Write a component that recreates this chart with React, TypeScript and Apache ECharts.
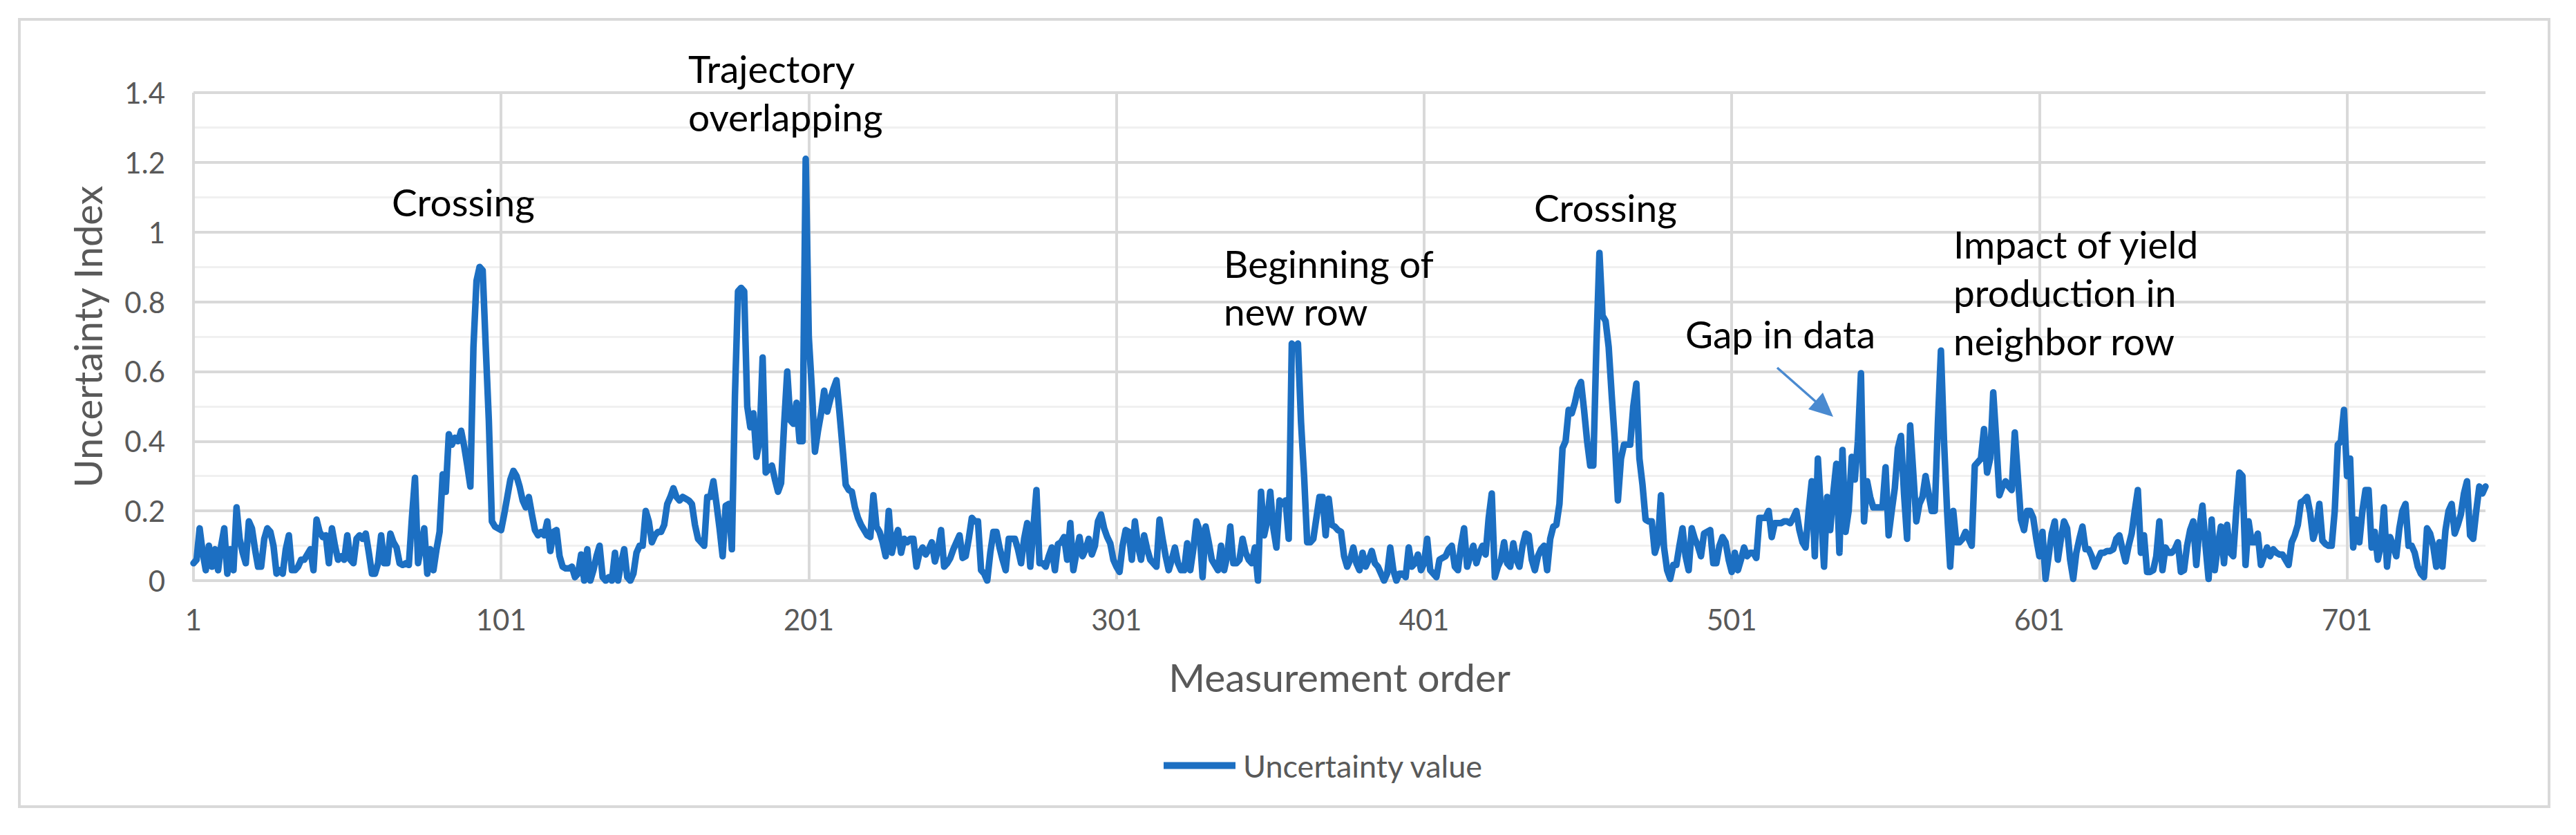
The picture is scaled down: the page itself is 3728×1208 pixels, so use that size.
import React, { useEffect, useRef } from "react";
import * as echarts from "echarts";

const valuesPart1 = [
  0.05, 0.06, 0.15, 0.08, 0.03, 0.10, 0.04, 0.09, 0.03, 0.10,
  0.15, 0.02, 0.09, 0.03, 0.21, 0.12, 0.08, 0.05, 0.17, 0.15,
  0.09, 0.04, 0.04, 0.12, 0.15, 0.14, 0.10, 0.02, 0.03, 0.02,
  0.09, 0.13, 0.03, 0.03, 0.04, 0.06, 0.06, 0.075, 0.09, 0.03,
  0.175, 0.14, 0.125, 0.13, 0.05, 0.15, 0.10, 0.06, 0.07, 0.06,
  0.13, 0.06, 0.05, 0.12, 0.13, 0.12, 0.135, 0.08, 0.02, 0.02,
  0.05, 0.13, 0.05, 0.05, 0.135, 0.11, 0.095, 0.05, 0.045, 0.05,
  0.045, 0.18, 0.295, 0.05, 0.10, 0.15, 0.02, 0.09, 0.03, 0.09,
  0.14, 0.305, 0.255, 0.42, 0.39, 0.41, 0.40, 0.43, 0.385, 0.33,
  0.27, 0.67, 0.86, 0.90, 0.89, 0.67, 0.46, 0.17, 0.155, 0.15,
  0.145, 0.19, 0.24, 0.29, 0.315, 0.30, 0.27, 0.23, 0.21, 0.24,
  0.19, 0.145, 0.13, 0.14, 0.13, 0.17, 0.085, 0.14, 0.145, 0.07,
  0.04, 0.035, 0.035, 0.04, 0.01, 0.02, 0.075, 0.0, 0.09, 0.0,
  0.03, 0.07, 0.10, 0.01, 0.0, 0.01, 0.0, 0.08, 0.0, 0.05,
  0.09, 0.01, 0.0, 0.02, 0.08, 0.10, 0.10, 0.20, 0.17,
];
const valuesPart2 = [
  0.11, 0.13, 0.14, 0.14, 0.16, 0.22, 0.24, 0.265, 0.24, 0.23,
  0.24, 0.235, 0.23, 0.22, 0.16, 0.12, 0.11, 0.10, 0.24, 0.24,
  0.285, 0.22, 0.15, 0.07, 0.215, 0.22, 0.09, 0.53, 0.83, 0.84,
  0.83, 0.5, 0.44, 0.48, 0.355, 0.40, 0.64, 0.31, 0.32, 0.33,
  0.29, 0.255, 0.28, 0.45, 0.60, 0.46, 0.45, 0.51, 0.40, 0.40,
  1.21, 0.70, 0.55, 0.37, 0.43, 0.48, 0.545, 0.485, 0.52, 0.55,
  0.575, 0.48, 0.38, 0.275, 0.26, 0.255, 0.21, 0.18, 0.16, 0.145,
  0.13, 0.125, 0.245, 0.155, 0.14, 0.11, 0.07, 0.2, 0.08, 0.12,
  0.145, 0.08, 0.12, 0.11, 0.12, 0.12, 0.04, 0.08, 0.095, 0.075,
  0.09, 0.11, 0.055, 0.09, 0.145, 0.04, 0.05, 0.065, 0.09, 0.11,
  0.13, 0.065, 0.07, 0.12, 0.18, 0.17, 0.17, 0.03, 0.02, 0.0,
  0.08, 0.14, 0.14, 0.095, 0.06, 0.03, 0.12, 0.12, 0.12, 0.09,
  0.05, 0.12, 0.165, 0.04, 0.15, 0.26, 0.05, 0.05, 0.04, 0.07,
  0.095, 0.03, 0.105, 0.11, 0.125, 0.06, 0.165, 0.03, 0.08, 0.125,
  0.07, 0.09, 0.12, 0.075, 0.1, 0.17, 0.19, 0.15, 0.125,
];
const valuesPart3 = [
  0.107, 0.06, 0.04, 0.025, 0.10, 0.145, 0.14, 0.06, 0.17, 0.10,
  0.06, 0.13, 0.09, 0.06, 0.05, 0.04, 0.175, 0.12, 0.07, 0.03,
  0.06, 0.095, 0.05, 0.03, 0.03, 0.107, 0.03, 0.09, 0.17, 0.145,
  0.01, 0.155, 0.11, 0.06, 0.045, 0.03, 0.1, 0.03, 0.07, 0.155,
  0.05, 0.05, 0.06, 0.12, 0.08, 0.06, 0.05, 0.095, 0.0, 0.255,
  0.13, 0.17, 0.255, 0.15, 0.095, 0.23, 0.22, 0.23, 0.12, 0.68,
  0.67, 0.68, 0.455, 0.30, 0.11, 0.11, 0.12, 0.18, 0.24, 0.24,
  0.13, 0.235, 0.16, 0.155, 0.145, 0.14, 0.07, 0.04, 0.06, 0.095,
  0.05, 0.03, 0.08, 0.04, 0.06, 0.085, 0.05, 0.04, 0.02, 0.0,
  0.02, 0.095, 0.03, 0.0, 0.02, 0.02, 0.01, 0.095, 0.04, 0.05,
  0.075, 0.03, 0.05, 0.12, 0.03, 0.02, 0.01, 0.06, 0.065, 0.07,
  0.09, 0.10, 0.04, 0.03, 0.10, 0.15, 0.04, 0.07, 0.10, 0.05,
  0.08, 0.10, 0.075, 0.18, 0.25, 0.01, 0.04, 0.06, 0.11, 0.05,
  0.04, 0.107, 0.06, 0.04, 0.10, 0.135, 0.13, 0.06, 0.03, 0.07,
  0.09, 0.10, 0.03, 0.12, 0.155, 0.16, 0.22, 0.38, 0.40, 0.49,
];
const valuesPart4 = [
  0.48, 0.51, 0.55, 0.57, 0.49, 0.40, 0.33, 0.33, 0.67, 0.94,
  0.76, 0.745, 0.67, 0.53, 0.40, 0.23, 0.35, 0.39, 0.39, 0.39,
  0.50, 0.565, 0.35, 0.275, 0.175, 0.17, 0.17, 0.08, 0.11, 0.245,
  0.095, 0.03, 0.005, 0.045, 0.045, 0.10, 0.15, 0.07, 0.03, 0.15,
  0.12, 0.10, 0.07, 0.135, 0.14, 0.145, 0.05, 0.05, 0.10, 0.125,
  0.11, 0.06, 0.025, 0.08, 0.03, 0.06, 0.095, 0.07, 0.08, 0.08,
  0.065, 0.18, 0.18, 0.18, 0.2, 0.125, 0.165, 0.165, 0.165, 0.17,
  0.17, 0.165, 0.18, 0.2, 0.145, 0.11, 0.095, 0.2, 0.285, 0.07,
  0.35, 0.2, 0.04, 0.24, 0.145, 0.25, 0.335, 0.08, 0.375, 0.14,
  0.2, 0.355, 0.29, 0.4, 0.595, 0.17, 0.285, 0.24, 0.21, 0.21,
  0.21, 0.21, 0.325, 0.13, 0.2, 0.265, 0.38, 0.415, 0.25, 0.12,
  0.445, 0.31, 0.17, 0.22, 0.24, 0.3, 0.25, 0.2, 0.2, 0.45,
  0.66, 0.4, 0.2, 0.04, 0.2, 0.11, 0.11, 0.12, 0.14, 0.12,
  0.1, 0.33, 0.34, 0.35, 0.435, 0.31, 0.35, 0.54, 0.4, 0.245,
  0.27, 0.285, 0.27, 0.26, 0.425, 0.3, 0.175, 0.145, 0.2,
];
const valuesPart5 = [
  0.2, 0.18, 0.12, 0.07, 0.14, 0.005, 0.07, 0.135, 0.17, 0.06,
  0.12, 0.17, 0.15, 0.06, 0.005, 0.08, 0.12, 0.155, 0.09, 0.09,
  0.07, 0.04, 0.06, 0.08, 0.08, 0.085, 0.085, 0.09, 0.12, 0.13,
  0.09, 0.055, 0.1, 0.135, 0.2, 0.26, 0.08, 0.13, 0.025, 0.025,
  0.03, 0.07, 0.17, 0.03, 0.095, 0.08, 0.08, 0.09, 0.11, 0.025,
  0.03, 0.1, 0.145, 0.17, 0.045, 0.15, 0.215, 0.1, 0.005, 0.175,
  0.03, 0.1, 0.155, 0.05, 0.16, 0.08, 0.07, 0.2, 0.31, 0.30,
  0.045, 0.17, 0.11, 0.11, 0.135, 0.045, 0.07, 0.095, 0.07, 0.09,
  0.08, 0.075, 0.075, 0.06, 0.045, 0.11, 0.13, 0.16, 0.225, 0.23,
  0.24, 0.195, 0.12, 0.15, 0.22, 0.115, 0.105, 0.1, 0.1, 0.2,
  0.39, 0.4, 0.49, 0.3, 0.35, 0.095, 0.175, 0.11, 0.2, 0.26,
  0.26, 0.095, 0.14, 0.06, 0.1, 0.21, 0.04, 0.125, 0.1, 0.07,
  0.15, 0.2, 0.22, 0.1, 0.1, 0.08, 0.04, 0.02, 0.01, 0.15,
  0.135, 0.1, 0.04, 0.11, 0.04, 0.145, 0.2, 0.22, 0.135, 0.16,
  0.19, 0.25, 0.285, 0.13, 0.12, 0.2, 0.27, 0.25, 0.27,
];

const uncertaintyValues = [
  ...valuesPart1,
  ...valuesPart2,
  ...valuesPart3,
  ...valuesPart4,
  ...valuesPart5,
];
// Measurement order categories: 1 .. N
const measurementOrder = uncertaintyValues.map((_, i) => String(i + 1));

const seriesName = "Uncertainty value";
const xAxisTitle = "Measurement order";
const yAxisTitle = "Uncertainty Index";
const annotationTexts = [
  "Crossing",
  "Trajectory\noverlapping",
  "Beginning of\nnew row",
  "Crossing",
  "Gap in data",
  "Impact of yield\nproduction in\nneighbor row",
];

const FONT = "Lato, 'Liberation Sans', sans-serif";
const LINE_BLUE = "#1c6fc2";
const ARROW_BLUE = "#4a8ad0";
const GRID_MAJOR = "#d9d9d9";
const GRID_MINOR = "#f0f0f0";
const TICK_GRAY = "#595959";

export default function App() {
  const ref = useRef<HTMLDivElement>(null);

  useEffect(() => {
    document.body.style.margin = "0";
    if (!ref.current) return;
    const chart = echarts.init(ref.current, undefined, { renderer: "svg" });

    const annoStyle = {
      fontSize: 55,
      fontFamily: FONT,
      fill: "#000000",
      align: "left",
      verticalAlign: "middle",
    };

    chart.setOption({
      animation: false,
      backgroundColor: "#ffffff",
      grid: {
        left: 280,
        right: 131,
        top: 134,
        bottom: 368,
        containLabel: false,
      },
      legend: {
        show: true,
        data: [{ name: seriesName, icon: "rect" }],
        left: 1679,
        top: 1080,
        itemWidth: 104,
        itemHeight: 10,
        textStyle: {
          fontSize: 45,
          fontFamily: FONT,
          color: TICK_GRAY,
          padding: [0, 0, 0, 6],
        },
      },
      xAxis: {
        type: "category",
        data: measurementOrder,
        boundaryGap: false,
        name: xAxisTitle,
        nameLocation: "middle",
        nameGap: 110,
        nameTextStyle: {
          fontSize: 57,
          fontFamily: FONT,
          color: TICK_GRAY,
        },
        axisLine: { show: true, lineStyle: { color: GRID_MAJOR, width: 4 } },
        axisTick: { show: false },
        axisLabel: {
          interval: 99,
          margin: 35,
          fontSize: 42,
          fontFamily: FONT,
          color: TICK_GRAY,
        },
        splitLine: {
          show: true,
          interval: 99,
          lineStyle: { color: GRID_MAJOR, width: 4 },
        },
      },
      yAxis: {
        type: "value",
        min: 0,
        max: 1.4,
        interval: 0.2,
        name: yAxisTitle,
        nameLocation: "middle",
        nameRotate: 90,
        nameGap: 126,
        nameTextStyle: {
          fontSize: 56,
          fontFamily: FONT,
          color: TICK_GRAY,
        },
        axisLine: { show: false },
        axisTick: { show: false },
        axisLabel: {
          margin: 41,
          fontSize: 42,
          fontFamily: FONT,
          color: TICK_GRAY,
          padding: [0, 0, 10, 0],
          formatter: (v: number) => String(Math.round(v * 10) / 10),
        },
        splitLine: {
          show: true,
          lineStyle: { color: GRID_MAJOR, width: 4 },
        },
        minorTick: { show: false, splitNumber: 2 },
        minorSplitLine: {
          show: true,
          lineStyle: { color: GRID_MINOR, width: 3 },
        },
      },
      series: [
        {
          name: seriesName,
          type: "line",
          data: uncertaintyValues,
          showSymbol: false,
          symbol: "none",
          z: 3,
          itemStyle: { color: LINE_BLUE },
          lineStyle: { color: LINE_BLUE, width: 9.5, join: "round", cap: "round" },
        },
      ],
      graphic: [
        {
          type: "rect",
          z: -10,
          shape: { x: 28, y: 28, width: 3661, height: 1139 },
          style: { fill: "none", stroke: GRID_MAJOR, lineWidth: 4 },
        },
        { type: "text", z: 50, x: 567, y: 292, style: { ...annoStyle, text: annotationTexts[0] } },
        {
          type: "text",
          z: 50,
          x: 996,
          y: 134,
          style: { ...annoStyle, text: annotationTexts[1], lineHeight: 70 },
        },
        {
          type: "text",
          z: 50,
          x: 1771,
          y: 415,
          style: { ...annoStyle, text: annotationTexts[2], lineHeight: 69 },
        },
        { type: "text", z: 50, x: 2220, y: 300, style: { ...annoStyle, text: annotationTexts[3] } },
        { type: "text", z: 50, x: 2439, y: 483, style: { ...annoStyle, text: annotationTexts[4] } },
        {
          type: "text",
          z: 50,
          x: 2827,
          y: 423,
          style: { ...annoStyle, text: annotationTexts[5], lineHeight: 70 },
        },
        {
          type: "line",
          z: 50,
          shape: { x1: 2572, y1: 532, x2: 2630, y2: 583 },
          style: { stroke: ARROW_BLUE, lineWidth: 3.5 },
        },
        {
          type: "polygon",
          z: 50,
          shape: {
            points: [
              [2653, 603],
              [2617, 592],
              [2638, 568],
            ],
          },
          style: { fill: ARROW_BLUE },
        },
      ],
    });

    return () => {
      chart.dispose();
    };
  }, []);

  return <div ref={ref} style={{ width: 3728, height: 1208 }} />;
}
